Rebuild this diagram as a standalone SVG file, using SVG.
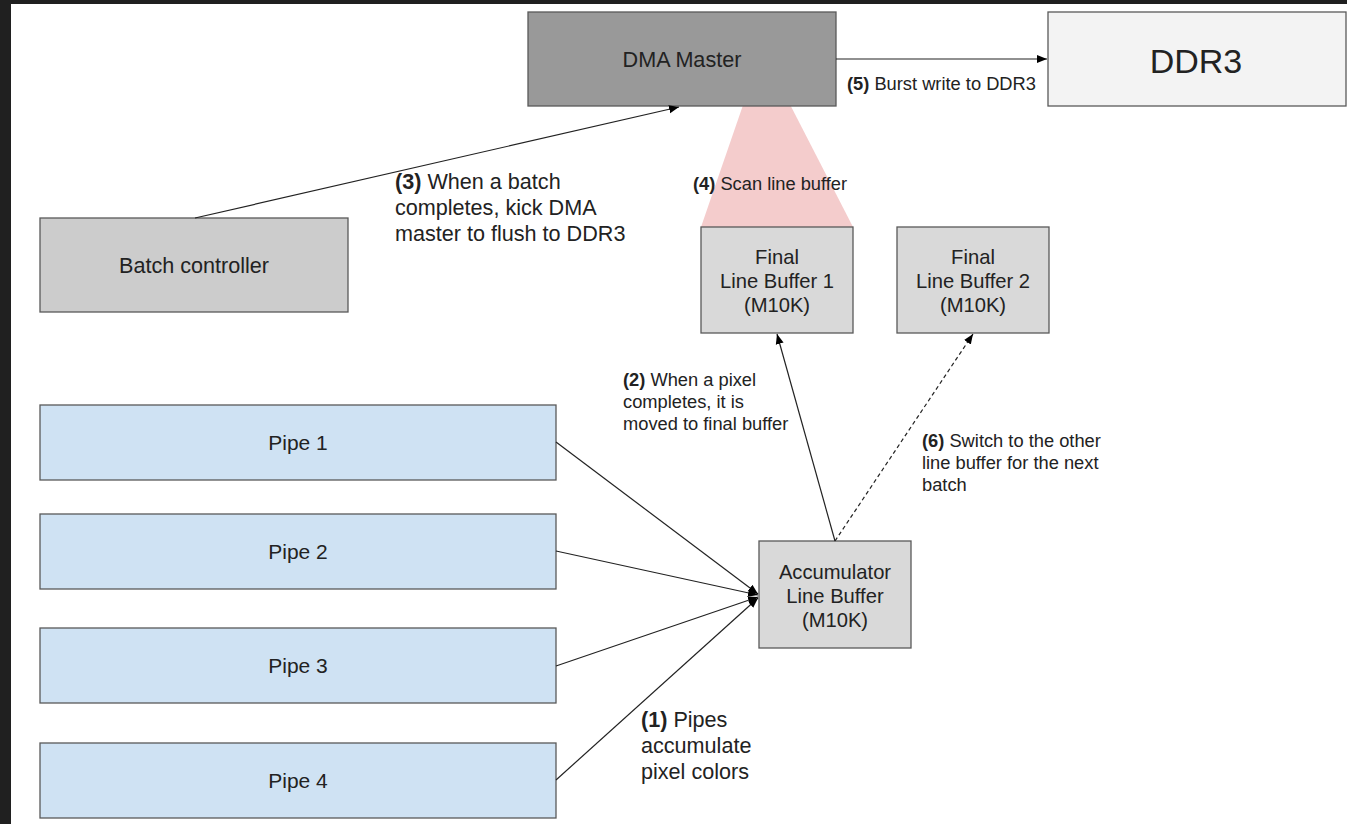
<svg xmlns="http://www.w3.org/2000/svg" width="1347" height="824" viewBox="0 0 1347 824">
<style>
.n{stroke:#595959;stroke-width:1.3}
.t{font-family:"Liberation Sans",Arial,sans-serif;fill:#222;text-anchor:middle}
.l{font-family:"Liberation Sans",Arial,sans-serif;fill:#222}
.c{fill:none;stroke:#222;stroke-width:1.2}
</style>
<defs>
<marker id="ah" viewBox="0 0 10 10" refX="10" refY="5" markerWidth="10" markerHeight="10" markerUnits="userSpaceOnUse" orient="auto"><path d="M0,1 L10,5 L0,9 Z" fill="#000"/></marker>
</defs>
<rect x="0" y="0" width="1347" height="824" fill="#fff"/>
<rect x="0" y="0" width="1347" height="4" fill="#202020"/>
<rect x="0" y="0" width="11" height="824" fill="#202020"/>
<polygon points="762,50 701,227 853,227" fill="#f4cccc"/>
<g id="dma"><rect class="n" x="528" y="12" width="308" height="94" fill="#999999"/><text class="t" x="682" y="67" font-size="21.6">DMA Master</text></g>
<g id="ddr3"><rect class="n" x="1048" y="12" width="298" height="94" fill="#f3f3f3"/><text class="t" x="1196" y="73" font-size="34">DDR3</text></g>
<g id="batch"><rect class="n" x="40" y="218" width="308" height="94" fill="#cccccc"/><text class="t" x="194" y="273" font-size="21.6">Batch controller</text></g>
<g id="flb1"><rect class="n" x="701" y="227" width="152" height="106" fill="#d9d9d9"/><text class="t" font-size="20.2"><tspan x="777" y="264">Final</tspan><tspan x="777" y="288">Line Buffer 1</tspan><tspan x="777" y="312">(M10K)</tspan></text></g>
<g id="flb2"><rect class="n" x="897" y="227" width="152" height="106" fill="#d9d9d9"/><text class="t" font-size="20.2"><tspan x="973" y="264">Final</tspan><tspan x="973" y="288">Line Buffer 2</tspan><tspan x="973" y="312">(M10K)</tspan></text></g>
<g id="acc"><rect class="n" x="759" y="541" width="152" height="107" fill="#d9d9d9"/><text class="t" font-size="20.2"><tspan x="835" y="579">Accumulator</tspan><tspan x="835" y="603">Line Buffer</tspan><tspan x="835" y="627">(M10K)</tspan></text></g>
<g id="pipe1"><rect class="n" x="40" y="405" width="516" height="75" fill="#cfe2f3"/><text class="t" x="298" y="450" font-size="21">Pipe 1</text></g>
<g id="pipe2"><rect class="n" x="40" y="514" width="516" height="75" fill="#cfe2f3"/><text class="t" x="298" y="559" font-size="21">Pipe 2</text></g>
<g id="pipe3"><rect class="n" x="40" y="628" width="516" height="75" fill="#cfe2f3"/><text class="t" x="298" y="673" font-size="21">Pipe 3</text></g>
<g id="pipe4"><rect class="n" x="40" y="743" width="516" height="75" fill="#cfe2f3"/><text class="t" x="298" y="788" font-size="21">Pipe 4</text></g>
<g id="connectors">
<line class="c" x1="836" y1="59" x2="1047" y2="59" marker-end="url(#ah)"/>
<line class="c" x1="195" y1="218" x2="679" y2="107" marker-end="url(#ah)"/>
<line class="c" x1="835" y1="541" x2="777" y2="334" marker-end="url(#ah)"/>
<line class="c" x1="835" y1="541" x2="973" y2="334" stroke-dasharray="4,3" marker-end="url(#ah)"/>
<line class="c" x1="556" y1="442" x2="758" y2="594" marker-end="url(#ah)"/>
<line class="c" x1="556" y1="551" x2="758" y2="595" marker-end="url(#ah)"/>
<line class="c" x1="556" y1="666" x2="758" y2="597" marker-end="url(#ah)"/>
<line class="c" x1="556" y1="780" x2="758" y2="598" marker-end="url(#ah)"/>
</g>
<g id="labels">
<text class="l" x="847" y="90" font-size="18.3"><tspan font-weight="bold">(5)</tspan> Burst write to DDR3</text>
<text class="l" x="693" y="190" font-size="18.3"><tspan font-weight="bold">(4)</tspan> Scan line buffer</text>
<text class="l" font-size="21.6"><tspan x="395" y="189"><tspan font-weight="bold">(3)</tspan> When a batch</tspan><tspan x="395" y="215">completes, kick DMA</tspan><tspan x="395" y="241">master to flush to DDR3</tspan></text>
<text class="l" font-size="18.3"><tspan x="623" y="386"><tspan font-weight="bold">(2)</tspan> When a pixel</tspan><tspan x="623" y="408">completes, it is</tspan><tspan x="623" y="430">moved to final buffer</tspan></text>
<text class="l" font-size="18.3"><tspan x="922" y="447"><tspan font-weight="bold">(6)</tspan> Switch to the other</tspan><tspan x="922" y="469">line buffer for the next</tspan><tspan x="922" y="491">batch</tspan></text>
<text class="l" font-size="21.6"><tspan x="641" y="727"><tspan font-weight="bold">(1)</tspan> Pipes</tspan><tspan x="641" y="753">accumulate</tspan><tspan x="641" y="779">pixel colors</tspan></text>
</g>
</svg>
